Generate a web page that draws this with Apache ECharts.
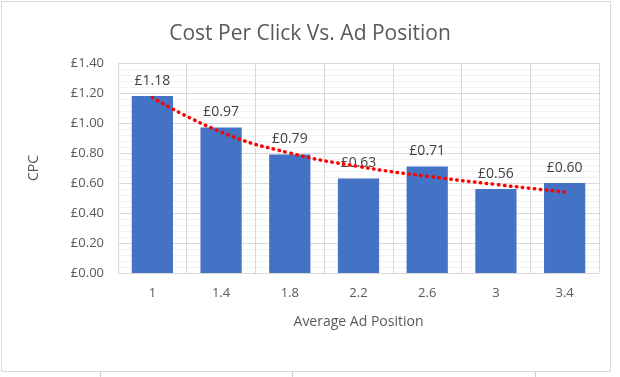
<!DOCTYPE html>
<html><head><meta charset="utf-8">
<script src="https://cdn.jsdelivr.net/npm/echarts@6/dist/echarts.min.js"></script>
<style>html,body{margin:0;padding:0;background:#fff}#c{width:620px;height:377px}</style>
</head><body><div id="c"></div>
<script>
var categories = ['1','1.4','1.8','2.2','2.6','3','3.4'];
var cpcValues = [1.18, 0.97, 0.79, 0.63, 0.71, 0.56, 0.60];
var trendValues = [1.17, 0.94, 0.80, 0.71, 0.645, 0.59, 0.54];
var yTicks = [0, 0.2, 0.4, 0.6, 0.8, 1.0, 1.2, 1.4];

var FONT = '"Open Sans", "Noto Sans", sans-serif';
var chart = echarts.init(document.getElementById('c'), null, {renderer: 'canvas'});
chart.setOption({
  animation: false,
  backgroundColor: '#fff',
  title: {
    text: 'Cost Per Click Vs. Ad Position',
    left: 'center', top: 19,
    textStyle: {fontFamily: FONT, fontSize: 21, fontWeight: 'normal', color: '#595959'}
  },
  grid: {left: 118, right: 21, top: 63, bottom: 104, containLabel: false},
  xAxis: [{
    type: 'category', data: categories,
    name: 'Average Ad Position', nameLocation: 'middle', nameGap: 42,
    nameTextStyle: {fontFamily: FONT, fontSize: 14, color: '#595959'},
    axisLine: {show: true, lineStyle: {color: '#d9d9d9'}},
    axisTick: {show: false},
    axisLabel: {fontFamily: FONT, fontSize: 13, color: '#595959', margin: 14},
    splitLine: {show: true, lineStyle: {color: '#d9d9d9', width: 1}}
  }],
  yAxis: {
    type: 'value', min: yTicks[0], max: yTicks[yTicks.length-1], interval: 0.2,
    name: 'CPC', nameLocation: 'middle', nameGap: 77, nameRotate: 90,
    nameTextStyle: {fontFamily: FONT, fontSize: 14, color: '#595959'},
    axisLine: {show: false}, axisTick: {show: false},
    axisLabel: {fontFamily: FONT, fontSize: 13, color: '#595959', margin: 14,
      formatter: function(v){ return '£' + v.toFixed(2); }},
    splitLine: {show: true, lineStyle: {color: '#d9d9d9'}},
    minorTick: {show: false, splitNumber: 5},
    minorSplitLine: {show: true, lineStyle: {color: '#f2f2f2'}}
  },
  series: [{
    type: 'bar', data: cpcValues, barCategoryGap: '40%',
    itemStyle: {color: '#4472C4'},
    label: {show: true, position: 'top', distance: 8,
      fontFamily: FONT, fontSize: 14, color: '#404040',
      formatter: function(p){ return '£' + p.value.toFixed(2); }},
    z: 2
  }, {
    type: 'line', data: trendValues, smooth: true, symbol: 'none',
    lineStyle: {color: '#FF0000', width: 3.5, type: [0.5, 5.5], cap: 'round'},
    z: 5
  }],
  graphic: [
    {type: 'rect', shape: {x: 1.5, y: 1.5, width: 609, height: 370}, style: {fill: null, stroke: '#d9d9d9', lineWidth: 1}, silent: true},
    {type: 'line', shape: {x1: 100.5, y1: 372, x2: 100.5, y2: 377}, style: {stroke: '#d0d0d0'}},
    {type: 'line', shape: {x1: 292.5, y1: 372, x2: 292.5, y2: 377}, style: {stroke: '#d0d0d0'}},
    {type: 'line', shape: {x1: 535.5, y1: 372, x2: 535.5, y2: 377}, style: {stroke: '#d0d0d0'}}
  ]
});
</script></body></html>
